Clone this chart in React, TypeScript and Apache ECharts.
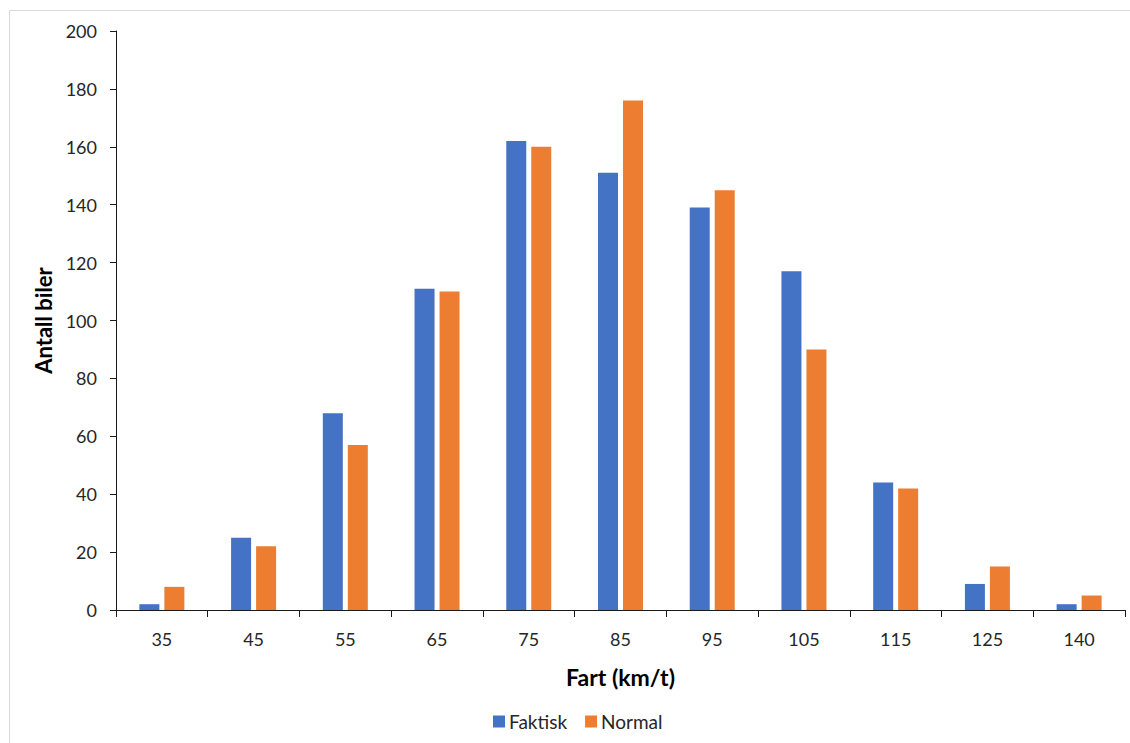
import React, { useEffect, useRef } from "react";
import * as echarts from "echarts";

// Speed classes (km/t) and number of cars in each class
const speedClasses = ["35", "45", "55", "65", "75", "85", "95", "105", "115", "125", "140"];
const faktisk = [2, 25, 68, 111, 162, 151, 139, 117, 44, 9, 2];
const normal = [8, 22, 57, 110, 160, 176, 145, 90, 42, 15, 5];
const yTicks = { min: 0, max: 200, interval: 20 };

const FONT = "Lato, 'Noto Sans', sans-serif";

export default function App() {
  const ref = useRef<HTMLDivElement>(null);

  useEffect(() => {
    if (!ref.current) return;
    const chart = echarts.init(ref.current, undefined, { renderer: "svg" });
    chart.setOption({
      animation: false,
      backgroundColor: "#ffffff",
      textStyle: { fontFamily: FONT },
      graphic: [
        {
          type: "rect",
          shape: { x: 9.5, y: 10.5, width: 1140, height: 760 },
          style: { fill: "none", stroke: "#d9d9d9", lineWidth: 1 },
          silent: true,
        },
      ],
      grid: { left: 116, right: 5, top: 31, bottom: 133, containLabel: false },
      legend: {
        left: 488,
        top: 707,
        itemWidth: 12,
        itemHeight: 12,
        itemGap: 18,
        icon: "rect",
        textStyle: { fontSize: 19, color: "#262626", fontFamily: FONT, padding: [0, 0, 0, -1] },
        data: ["Faktisk", "Normal"],
      },
      xAxis: {
        type: "category",
        data: speedClasses,
        name: "Fart (km/t)",
        nameLocation: "middle",
        nameGap: 55,
        nameTextStyle: { fontSize: 23, fontWeight: "bold", color: "#000", fontFamily: FONT },
        axisLine: { lineStyle: { color: "#1a1a1a", width: 1 } },
        axisTick: { show: true, length: 7, lineStyle: { color: "#1a1a1a" } },
        axisLabel: { fontSize: 18, color: "#262626", margin: 20, fontFamily: FONT },
      },
      yAxis: {
        type: "value",
        min: yTicks.min,
        max: yTicks.max,
        interval: yTicks.interval,
        name: "Antall biler",
        nameLocation: "middle",
        nameGap: 62,
        nameRotate: 90,
        nameTextStyle: { fontSize: 22, fontWeight: "bold", color: "#000", fontFamily: FONT },
        axisLine: { show: true, lineStyle: { color: "#1a1a1a", width: 1 } },
        axisTick: { show: true, length: 6, lineStyle: { color: "#1a1a1a" } },
        axisLabel: { fontSize: 18, color: "#262626", margin: 19, fontFamily: FONT },
        splitLine: { show: false },
      },
      series: [
        {
          name: "Faktisk",
          type: "bar",
          data: faktisk,
          barWidth: 20,
          barGap: "25%",
          itemStyle: { color: "#4472C4" },
        },
        {
          name: "Normal",
          type: "bar",
          data: normal,
          barWidth: 20,
          barGap: "25%",
          itemStyle: { color: "#ED7D31" },
        },
      ],
    });
    return () => chart.dispose();
  }, []);

  return (
    <div
      ref={ref}
      style={{ position: "fixed", left: 0, top: 0, width: 1130, height: 743, background: "#fff" }}
    />
  );
}
